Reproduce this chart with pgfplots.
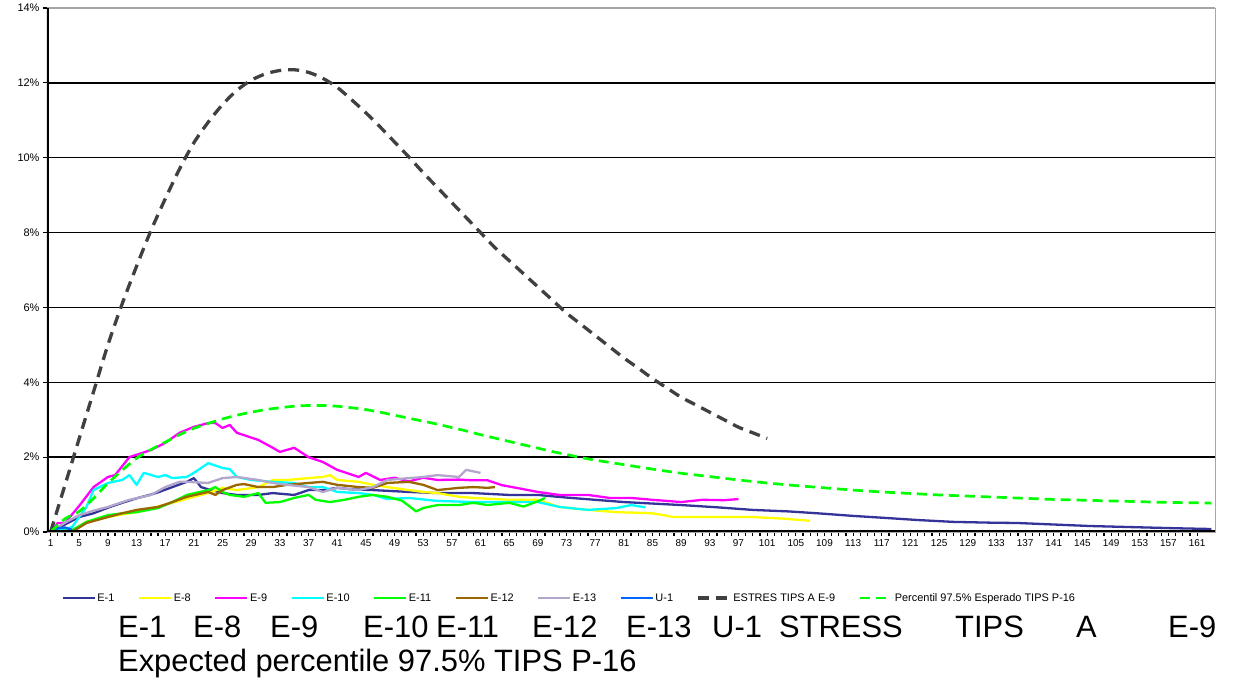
\documentclass[border=0pt]{standalone}
\usepackage{fontspec}
\setmainfont{Liberation Sans}
\usepackage{pgfplots}
\pgfplotsset{compat=1.18}
\definecolor{cEone}{RGB}{51,51,153}
\definecolor{cEeight}{RGB}{255,255,0}
\definecolor{cEnine}{RGB}{255,0,255}
\definecolor{cEten}{RGB}{0,255,255}
\definecolor{cEeleven}{RGB}{0,255,0}
\definecolor{cEtwelve}{RGB}{153,102,0}
\definecolor{cEthirteen}{RGB}{179,166,204}
\definecolor{cUone}{RGB}{0,102,255}
\definecolor{cStress}{RGB}{64,64,64}
\definecolor{cPerc}{RGB}{0,255,0}
\begin{document}
\begin{tikzpicture}
\useasboundingbox (0,0) rectangle (1237bp,693bp);
\begin{axis}[
 at={(47bp,161bp)}, anchor=south west, scale only axis,
 width=1168bp, height=524bp,
 xmin=0.5, xmax=163.5, ymin=0, ymax=14,
 axis line style={draw=gray!70, line width=0.6bp},
 ytick={0,2,...,14}, yticklabel={\pgfmathprintnumber{\tick}\%},
 xtick={1,5,...,161}, minor x tick num=3,
 ymajorgrids, major grid style={black, line width=1.3bp},
 tick style={black, line width=1.2bp},
 major tick length=4bp, minor tick length=4bp,
 tick align=outside, xtick pos=bottom, ytick pos=left,
 x tick label style={font=\fontsize{10}{11}\selectfont},
 y tick label style={font=\fontsize{11}{12}\selectfont},
 /pgf/number format/assume math mode=true,
 legend columns=10,
 legend style={at={(0.447,-0.126)}, anchor=center, draw=none, fill=none,
   font=\fontsize{11}{13}\selectfont,
   /tikz/every even column/.append style={column sep=22bp},
   nodes={inner sep=1.5bp}},
 legend image code/.code={\draw[#1] (0bp,0bp) -- (32bp,0bp);},
 every axis plot/.append style={line width=2.3bp, line join=round},
]
\addplot[cEone] coordinates {(1,0) (3,0.2) (5,0.4) (7,0.5) (9,0.65) (11,0.78) (13,0.9) (15,1.0) (16,1.06) (18,1.2) (20,1.34) (21,1.44) (22,1.2) (23,1.14) (25,1.04) (27,0.99) (30,0.99) (32,1.04) (35,0.99) (37,1.12) (39,1.12) (41,1.18) (43,1.14) (46,1.12) (48,1.1) (51,1.07) (55,1.04) (60,1.04) (65,0.99) (69,0.99) (73,0.92) (77,0.86) (81,0.8) (85,0.76) (89,0.72) (94,0.66) (99,0.59) (104,0.55) (108,0.5) (113,0.43) (118,0.37) (122,0.32) (127,0.27) (132,0.25) (136,0.24) (141,0.2) (146,0.16) (152,0.13) (158,0.1) (163,0.08)};
\addlegendentry{E-1}
\addplot[cEeight] coordinates {(1,0) (4,0) (6,0.27) (9,0.4) (11,0.47) (13,0.53) (15,0.63) (18,0.78) (21,0.94) (23,1.04) (25,1.18) (27,1.12) (30,1.2) (32,1.39) (34,1.39) (37,1.44) (39,1.47) (40,1.52) (41,1.39) (44,1.34) (46,1.26) (48,1.2) (51,1.12) (53,1.07) (55,1.04) (58,0.94) (60,0.91) (65,0.86) (69,0.86) (72,0.67) (76,0.59) (80,0.53) (85,0.5) (88,0.4) (94,0.4) (99,0.4) (103,0.36) (107,0.3)};
\addlegendentry{E-8}
\addplot[cEnine] coordinates {(1,0) (2,0.24) (3,0.24) (5,0.7) (7,1.2) (9,1.47) (10,1.52) (12,2.0) (15,2.19) (17,2.38) (19,2.65) (21,2.81) (23,2.91) (24,2.91) (25,2.78) (26,2.86) (27,2.65) (30,2.46) (32,2.25) (33,2.14) (35,2.25) (37,2.0) (39,1.87) (41,1.66) (44,1.47) (45,1.58) (47,1.39) (49,1.45) (51,1.35) (53,1.45) (55,1.39) (58,1.4) (60,1.38) (62,1.38) (64,1.25) (66,1.18) (69,1.07) (72,0.99) (76,0.99) (79,0.91) (82,0.91) (85,0.86) (89,0.8) (92,0.86) (95,0.85) (97,0.88)};
\addlegendentry{E-9}
\addplot[cEten] coordinates {(1,0) (4,0.13) (6,0.67) (7,1.12) (9,1.31) (11,1.39) (12,1.52) (13,1.26) (14,1.58) (16,1.47) (17,1.52) (18,1.44) (20,1.47) (21,1.58) (23,1.84) (25,1.71) (26,1.68) (27,1.47) (29,1.39) (32,1.34) (35,1.31) (37,1.2) (39,1.2) (41,1.07) (44,1.04) (46,0.99) (48,0.88) (51,0.91) (55,0.83) (60,0.8) (65,0.8) (69,0.8) (72,0.67) (76,0.59) (80,0.64) (82,0.72) (84,0.66)};
\addlegendentry{E-10}
\addplot[cEeleven] coordinates {(1,0) (4,0.05) (6,0.27) (9,0.45) (11,0.5) (13,0.53) (16,0.64) (18,0.8) (20,0.99) (23,1.12) (24,1.2) (25,1.07) (26,0.99) (28,0.94) (30,1.04) (31,0.78) (33,0.8) (35,0.91) (37,0.99) (38,0.86) (40,0.8) (42,0.86) (44,0.94) (46,0.99) (48,0.94) (50,0.84) (51,0.7) (52,0.55) (53,0.64) (55,0.72) (58,0.72) (60,0.78) (62,0.72) (65,0.78) (67,0.68) (69,0.82) (70,0.91)};
\addlegendentry{E-11}
\addplot[cEtwelve] coordinates {(1,0) (4,0) (6,0.24) (9,0.4) (11,0.5) (13,0.59) (16,0.67) (18,0.8) (20,0.94) (23,1.07) (24,0.99) (25,1.12) (27,1.26) (28,1.28) (30,1.2) (32,1.2) (34,1.26) (37,1.31) (39,1.34) (41,1.26) (44,1.2) (46,1.18) (48,1.31) (51,1.34) (53,1.26) (55,1.12) (58,1.18) (60,1.2) (62,1.18) (63,1.2)};
\addlegendentry{E-12}
\addplot[cEthirteen] coordinates {(1,0) (3,0.25) (5,0.45) (7,0.57) (9,0.67) (12,0.86) (15,0.99) (17,1.2) (19,1.34) (20,1.34) (23,1.31) (25,1.44) (27,1.47) (30,1.39) (32,1.31) (34,1.26) (37,1.2) (39,1.07) (41,1.18) (44,1.12) (46,1.2) (48,1.39) (51,1.44) (53,1.47) (55,1.52) (58,1.47) (59,1.66) (61,1.58)};
\addlegendentry{E-13}
\addplot[cUone] coordinates {(1,0) (2,0.1) (3,0.12) (4,0.06)};
\addlegendentry{U-1}
\addplot[cStress, line width=3.3bp, dash pattern=on 11bp off 7bp, smooth] coordinates {(1,0) (3,1.25) (5,2.5) (7,3.75) (9,5.0) (11,6.1) (13,7.1) (15,8.05) (17,8.9) (19,9.7) (21,10.4) (23,10.95) (25,11.42) (27,11.8) (29,12.07) (31,12.24) (33,12.33) (35,12.35) (37,12.28) (39,12.12) (41,11.88) (43,11.55) (45,11.2) (47,10.82) (49,10.42) (51,10.02) (53,9.6) (55,9.2) (57,8.8) (59,8.4) (61,8.0) (63,7.6) (65,7.25) (67,6.9) (69,6.55) (71,6.2) (73,5.85) (75,5.55) (77,5.25) (79,4.95) (81,4.65) (83,4.38) (85,4.1) (87,3.85) (89,3.6) (91,3.4) (93,3.2) (95,3.0) (97,2.8) (99,2.65) (101,2.5)};
\addlegendentry{ESTRES TIPS A E-9}
\addplot[cPerc, line width=2.7bp, dash pattern=on 10bp off 6bp, smooth] coordinates {(1,0) (3,0.35) (5,0.55) (7,0.9) (9,1.3) (11,1.65) (13,1.97) (15,2.2) (17,2.4) (19,2.6) (21,2.77) (23,2.9) (25,3.02) (27,3.12) (29,3.2) (31,3.27) (33,3.32) (35,3.36) (37,3.38) (39,3.38) (41,3.36) (43,3.32) (45,3.27) (47,3.2) (49,3.12) (51,3.04) (53,2.96) (55,2.88) (57,2.79) (59,2.7) (61,2.6) (63,2.51) (65,2.42) (67,2.33) (69,2.24) (71,2.15) (73,2.07) (75,1.99) (77,1.92) (79,1.86) (81,1.8) (85,1.68) (89,1.57) (93,1.48) (97,1.39) (101,1.31) (105,1.24) (109,1.18) (113,1.12) (117,1.07) (121,1.03) (125,0.99) (129,0.96) (133,0.93) (137,0.9) (141,0.87) (145,0.85) (149,0.83) (153,0.81) (157,0.79) (161,0.78) (163,0.77)};
\addlegendentry{Percentil 97.5\% Esperado TIPS P-16}
\draw[gray!70, line width=1.3bp] (rel axis cs:0,1) -- (rel axis cs:1,1);
\draw[black, line width=3bp] (rel axis cs:0,0) -- (rel axis cs:0,1);
\draw[black, line width=3bp] (rel axis cs:0,0) -- (rel axis cs:1,0);
\end{axis}
\begin{scope}[every node/.style={anchor=base west, inner sep=0pt, font=\fontsize{31}{36}\selectfont}]
\node at (118bp,55bp) {E-1};
\node at (193bp,55bp) {E-8};
\node at (270bp,55bp) {E-9};
\node at (363bp,55bp) {E-10};
\node at (436bp,55bp) {E-11};
\node at (532bp,55bp) {E-12};
\node at (626bp,55bp) {E-13};
\node at (712bp,55bp) {U-1};
\node at (779bp,55bp) {STRESS};
\node at (955bp,55bp) {TIPS};
\node at (1076bp,55bp) {A};
\node at (1168bp,55bp) {E-9};
\node at (118bp,22bp) {Expected percentile 97.5\% TIPS P-16};
\end{scope}
\end{tikzpicture}
\end{document}
